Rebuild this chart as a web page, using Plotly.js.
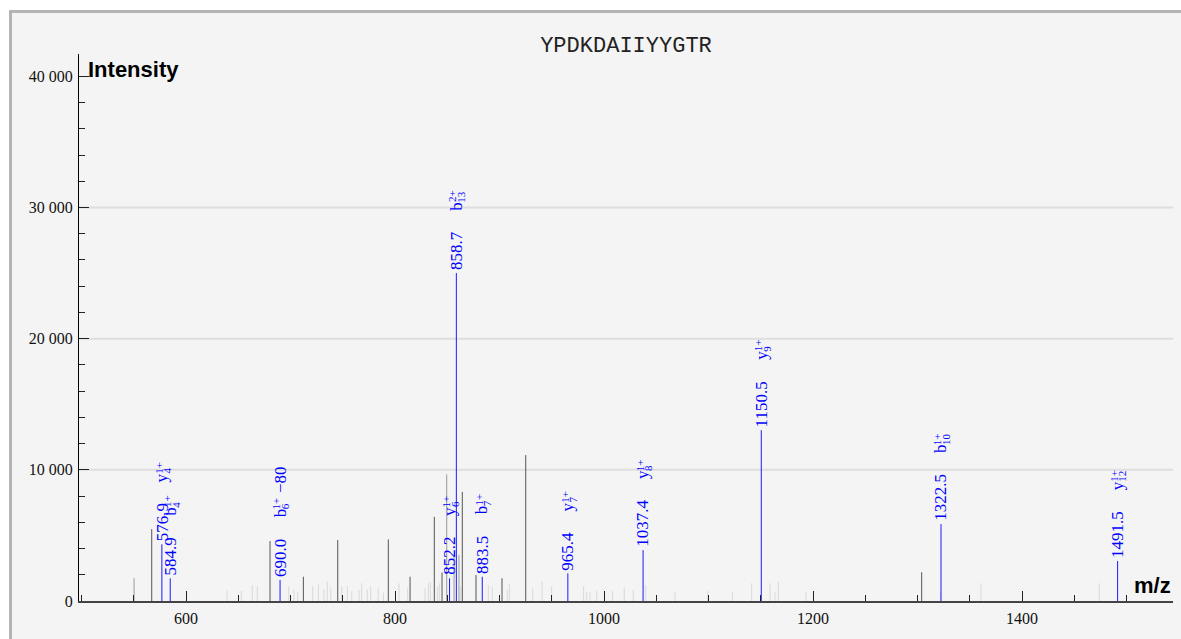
<!DOCTYPE html>
<html>
<head>
<meta charset="utf-8">
<script src="https://cdn.plot.ly/plotly-3.0.1.min.js"></script>
<style>
html,body{margin:0;padding:0;background:#ffffff;overflow:hidden;}
#frame{position:absolute;left:9px;top:10px;width:1250px;height:700px;border:3px solid #b4b4b4;background:#f4f4f4;}
#chart{position:absolute;left:0;top:0;width:1181px;height:639px;}
</style>
</head>
<body>
<div id="frame"></div>
<div id="chart"></div>
<script>
// ---------- data ----------
const peptide = "YPDKDAIIYYGTR";

// annotated (matched) fragment peaks
const ionMz        = [576.9, 584.9, 690.0, 852.2, 858.7, 883.5, 965.4, 1037.4, 1150.5, 1322.5, 1491.5];
const ionIntensity = [4320, 1730, 1600, 1730, 25000, 1850, 2110, 3880, 13020, 5860, 3050];
const ionType      = ["y", "b", "b", "y", "b", "b", "y", "y", "y", "b", "y"];
const ionIndex     = ["4", "4", "6", "6", "13", "7", "7", "8", "9", "10", "12"];
const ionCharge    = ["1+", "1+", "1+", "1+", "2+", "1+", "1+", "1+", "1+", "1+", "1+"];
const ionSuffix    = ["", "", "\u221280", "", "", "", "", "", "", "", ""];

// unannotated strong peaks (dark)
const darkMz        = [567.2, 680.4, 712.3, 745.2, 793.6, 814.4, 837.6, 845.0, 864.4, 877.5, 902.4, 925.1, 1304.0];
const darkIntensity = [5480, 4570, 1850, 4650, 4700, 1850, 6420, 2170, 8320, 1980, 1730, 11120, 2190];

// unannotated medium peaks (mid gray)
const midMz        = [550.3, 849.5, 856.5, 861.2];
const midIntensity = [1730, 9650, 3370, 3500];

// weak peaks (light gray)
const lightMz = [639.2, 652.9, 663.4, 668.2, 698.3, 703.3, 706.9, 721.2, 726.6, 732.0, 735.2, 738.5,
  749.0, 754.4, 758.6, 765.6, 768.1, 773.5, 776.7, 784.0, 788.9, 803.8, 812.1, 828.7, 831.9, 833.8,
  840.5, 842.4, 862.9, 889.3, 893.1, 907.5, 909.4, 931.8, 940.7, 949.9, 980.5, 983.4, 986.6, 993.0,
  1008.2, 1019.4, 1028.0, 1039.9, 1067.9, 1099.2, 1122.8, 1141.3, 1158.9, 1163.6, 1166.8, 1193.3,
  1322.0, 1360.8, 1474.0];
const lightIntensity = [785, 760, 1220, 1090, 1090, 890, 710, 1140, 1290, 890, 1470, 1040,
  1070, 1140, 760, 840, 1350, 910, 1090, 1010, 630, 1350, 1010, 970, 1390, 1450,
  1090, 1350, 1090, 1220, 1090, 840, 1290, 970, 1470, 1090, 1140, 660, 660, 780,
  780, 1040, 840, 1220, 710, 780, 710, 1350, 1350, 680, 1470, 710,
  720, 1350, 1350];

const gridLevels = [10000, 20000, 30000];

// ---------- helpers ----------
function sticks(mz, inten) {
  const x = [], y = [];
  mz.forEach((m, i) => { x.push(m, m, null); y.push(0, inten[i], null); });
  return {x, y};
}
const SERIF = "'Liberation Serif', 'Times New Roman', serif";
const cv = document.createElement("canvas").getContext("2d");
function textW(s, size) { cv.font = size + "px 'Liberation Serif'"; return cv.measureText(s).width; }

function stickTrace(mz, inten, color, width) {
  const s = sticks(mz, inten);
  return {type: "scatter", mode: "lines", x: s.x, y: s.y, line: {color: color, width: width},
          hoverinfo: "skip", showlegend: false, connectgaps: false};
}

const traces = [
  stickTrace(lightMz, lightIntensity, "#d9d9d9", 1),
  stickTrace(midMz, midIntensity, "#999999", 1),
  stickTrace(darkMz, darkIntensity, "#555555", 1),
  stickTrace(ionMz, ionIntensity, "#1a1aff", 1)
];

// ---------- annotations ----------
const BLUE = "#0000ff";
const annotations = [];
ionMz.forEach((m, i) => {
  const num = m.toFixed(1);
  const d0 = 2;
  const numLen = textW(num, 17);
  const baseStart = d0 + numLen + 21;
  const baseLen = textW(ionType[i], 17);
  const scriptStart = baseStart + baseLen;
  const scriptLen = Math.max(textW(ionCharge[i], 11), textW(ionIndex[i], 11));
  const common = {x: m, y: ionIntensity[i], xref: "x", yref: "y", showarrow: false, textangle: -90,
                  xanchor: "center", yanchor: "bottom", borderpad: 0};
  annotations.push(Object.assign({}, common, {text: num, yshift: d0, font: {family: SERIF, size: 17, color: BLUE}}));
  annotations.push(Object.assign({}, common, {text: ionType[i], yshift: baseStart, font: {family: SERIF, size: 17, color: BLUE}}));
  annotations.push(Object.assign({}, common, {text: ionCharge[i], yshift: scriptStart, xshift: -3.7, font: {family: SERIF, size: 11, color: BLUE}}));
  annotations.push(Object.assign({}, common, {text: ionIndex[i], yshift: scriptStart, xshift: 5, font: {family: SERIF, size: 11, color: BLUE}}));
  if (ionSuffix[i]) {
    annotations.push(Object.assign({}, common, {text: ionSuffix[i], yshift: scriptStart + scriptLen + 4, font: {family: SERIF, size: 17, color: BLUE}}));
  }
});
annotations.push({text: "<b>Intensity</b>", xref: "paper", yref: "paper", x: 0, y: 1, xanchor: "left", yanchor: "top",
  xshift: 7, yshift: -1, showarrow: false, font: {family: "'Liberation Sans', Arial, sans-serif", size: 22, color: "#000"}});
annotations.push({text: "<b>m/z</b>", xref: "paper", yref: "paper", x: 1, y: 0, xanchor: "right", yanchor: "bottom",
  xshift: 0, yshift: 1, showarrow: false, font: {family: "'Liberation Sans', Arial, sans-serif", size: 22, color: "#000"}});

const shapes = gridLevels.map(v => ({type: "line", xref: "paper", x0: 0, x1: 1, yref: "y", y0: v, y1: v,
  line: {color: "#dedede", width: 2}, layer: "below"}));

const layout = {
  width: 1181, height: 639,
  margin: {l: 79, r: 8, t: 54, b: 38, pad: 0},
  paper_bgcolor: "rgba(0,0,0,0)",
  plot_bgcolor: "rgba(0,0,0,0)",
  separators: ". ",
  showlegend: false,
  hovermode: false,
  title: {text: peptide, x: 0.5, xref: "paper", xanchor: "center", y: 1 - 44 / 639, yref: "container", yanchor: "middle",
          font: {family: "'Liberation Mono', 'Courier New', monospace", size: 22, color: "#222"}},
  xaxis: {range: [497.6, 1544.5], tickmode: "linear", tick0: 0, dtick: 200, ticks: "inside", ticklen: 10,
          tickcolor: "#222", tickwidth: 1, showline: true, linecolor: "#444", linewidth: 2, showgrid: false,
          zeroline: false, tickfont: {family: SERIF, size: 16, color: "#111"}, ticklabelstandoff: 2,
          minor: {tick0: 0, dtick: 50, ticks: "inside", ticklen: 6, tickcolor: "#222", showgrid: false}},
  yaxis: {range: [0, 41700], tickmode: "linear", tick0: 0, dtick: 10000, ticks: "inside", ticklen: 10,
          tickformat: ",d", exponentformat: "none",
          tickcolor: "#222", tickwidth: 1, showline: true, linecolor: "#000", linewidth: 1, showgrid: false,
          zeroline: false, tickfont: {family: SERIF, size: 16, color: "#111"}, ticklabelstandoff: 2,
          minor: {tick0: 0, dtick: 2000, ticks: "inside", ticklen: 6, tickcolor: "#222", showgrid: false}},
  shapes: shapes,
  annotations: annotations
};

Plotly.newPlot("chart", traces, layout, {displayModeBar: false, staticPlot: true});
</script>
</body>
</html>
